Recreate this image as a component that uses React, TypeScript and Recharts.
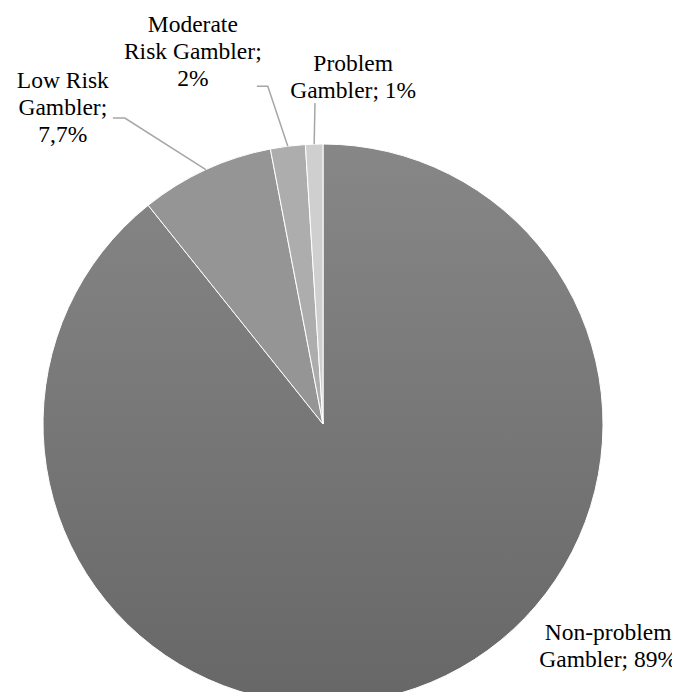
import { PieChart, Pie, Cell } from 'recharts';

// categories and values
const categories = ['Non-problem Gambler', 'Low Risk Gambler', 'Moderate Risk Gambler', 'Problem Gambler'];
const shares = [89, 7.7, 2, 1];
// label text as printed, already wrapped
const labelLines = [
  ['Non-problem', 'Gambler; 89%'],
  ['Low Risk', 'Gambler;', '7,7%'],
  ['Moderate', 'Risk Gambler;', '2%'],
  ['Problem', 'Gambler; 1%'],
];

const data = categories.map((name, i) => ({ name, value: shares[i] }));

const fills = ['url(#npGrad)', '#959595', '#adadad', '#cfcfcf'];

// label placement relative to the point on the rim at the slice's mid angle
const labelLayout = [
  { dx: 192.5, dy: -42.8, leader: [] as number[][] },
  { dx: -143, dy: -62.6, leader: [[-81, -51.6], [-93, -51.6]] },
  { dx: -95, dy: -95, leader: [[-20, -60], [-31, -60]] },
  { dx: 39, dy: -67.6, leader: [[0.8, -41]] },
];

const LINE_H = 27;
const FONT_SIZE = 23.5;
const RAD = Math.PI / 180;

const renderLabel = (props: any) => {
  const { cx, cy, midAngle, outerRadius, index } = props;
  const px = cx + outerRadius * Math.cos(-midAngle * RAD);
  const py = cy + outerRadius * Math.sin(-midAngle * RAD);
  const lay = labelLayout[index];
  const lines = labelLines[index];
  const pts = [[px, py], ...lay.leader.map(([x, y]) => [px + x, py + y])];
  const tx = px + lay.dx;
  const ty = py + lay.dy;
  return (
    <g key={`lbl-${index}`}>
      {lay.leader.length > 0 && (
        <polyline
          points={pts.map(p => p.join(',')).join(' ')}
          fill="none"
          stroke="#a6a6a6"
          strokeWidth={1.5}
        />
      )}
      {lines.map((ln, i) => (
        <text
          key={i}
          x={tx}
          // baseline sits about a third of the font size below the line centre
          y={ty + (i - (lines.length - 1) / 2) * LINE_H + 7.8}
          textAnchor="middle"
          fontFamily="Liberation Serif"
          fontSize={FONT_SIZE}
          fill="#000"
          stroke="none"
        >
          {ln}
        </text>
      ))}
    </g>
  );
};

export default function App() {
  return (
    <div style={{ margin: -8, width: 680, height: 700 }}>
      <PieChart width={680} height={700} margin={{ top: 0, right: 0, bottom: 0, left: 0 }}>
        <defs>
          <linearGradient id="npGrad" x1="0" y1="0" x2="0" y2="1">
            <stop offset="0%" stopColor="#878787" />
            <stop offset="100%" stopColor="#676767" />
          </linearGradient>
        </defs>
        <Pie
          data={data}
          dataKey="value"
          nameKey="name"
          cx={323}
          cy={424}
          outerRadius={280}
          startAngle={90}
          endAngle={-270}
          stroke="#fff"
          strokeWidth={1}
          label={renderLabel}
          labelLine={false}
          isAnimationActive={false}
        >
          {data.map((d, i) => (
            <Cell key={d.name} fill={fills[i]} />
          ))}
        </Pie>
      </PieChart>
    </div>
  );
}
